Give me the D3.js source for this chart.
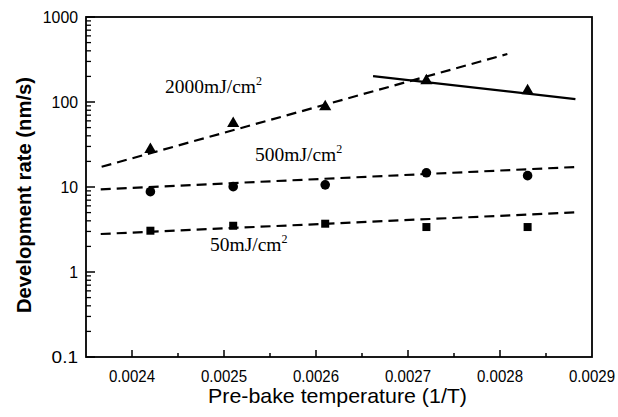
<!DOCTYPE html>
<html><head><meta charset="utf-8">
<script src="https://cdn.jsdelivr.net/npm/d3@7"></script>
<style>body{margin:0;background:#fff}svg{display:block}</style>
</head><body>
<svg id="c" width="618" height="417"></svg>
<script>
// ---- data ----
const temps = [0.00242, 0.00251, 0.00261, 0.00272, 0.00283];
const rate2000 = [27.6, 56, 88, 178, 136];
const rate500 = [8.8, 10.1, 10.6, 14.7, 13.6];
const rate50 = [3.06, 3.5, 3.7, 3.38, 3.38];
const fit2000DashX = [0.002367, 0.002808], fit2000DashY = [17.3, 367];
const fit2000SolidX = [0.002662, 0.002882], fit2000SolidY = [202, 108];
const fit500X = [0.002366, 0.002882], fit500Y = [9.4, 17.2];
const fit50X = [0.002366, 0.002882], fit50Y = [2.8, 5.03];
const xTicks = [0.0024, 0.0025, 0.0026, 0.0027, 0.0028, 0.0029];
const yTicks = [0.1, 1, 10, 100, 1000];
const seriesLabels = ["2000mJ/cm", "500mJ/cm", "50mJ/cm"];

const svg = d3.select("#c");
const L = 86, R = 592, T = 17, B = 357;
const x = d3.scaleLinear().domain([0.00235, 0.0029]).range([L, R]);
const y = d3.scaleLog().domain([0.1, 1000]).range([B, T]);

// frame
svg.append("rect").attr("x", L).attr("y", T).attr("width", R - L).attr("height", B - T)
  .attr("fill", "none").attr("stroke", "#000").attr("stroke-width", 1.8);

// x ticks
const xMinor = d3.range(0, 11).map(i => 0.00235 + i * 0.00005).filter(v => v > 0.00236 && v < 0.00289);
svg.append("g").selectAll("line").data(xMinor).join("line")
  .attr("x1", d => x(d)).attr("x2", d => x(d)).attr("y1", B)
  .attr("y2", d => B - (xTicks.some(t => Math.abs(t - d) < 1e-9) ? 7 : 4))
  .attr("stroke", "#000").attr("stroke-width", 1.5);
svg.append("g").selectAll("text").data(xTicks).join("text")
  .attr("x", d => x(d)).attr("y", 382).attr("text-anchor", "middle")
  .attr("font-family", "Liberation Sans, Arial, sans-serif").attr("font-size", 16.5)
  .attr("textLength", 46).attr("lengthAdjust", "spacingAndGlyphs")
  .text(d => d.toFixed(4));

// y ticks
const yMinor = [];
for (let e = -1; e < 3; e++) for (let k = 2; k <= 9; k++) yMinor.push(k * Math.pow(10, e));
svg.append("g").selectAll("line").data(yMinor).join("line")
  .attr("x1", L).attr("x2", L + 5).attr("y1", d => y(d)).attr("y2", d => y(d))
  .attr("stroke", "#000").attr("stroke-width", 1.3);
svg.append("g").selectAll("line").data(yTicks).join("line")
  .attr("x1", L).attr("x2", L + 9).attr("y1", d => y(d)).attr("y2", d => y(d))
  .attr("stroke", "#000").attr("stroke-width", 1.5);
svg.append("g").selectAll("text").data(yTicks).join("text")
  .attr("x", 78).attr("y", d => y(d) + 6).attr("text-anchor", "end")
  .attr("font-family", "Liberation Sans, Arial, sans-serif").attr("font-size", 16.5)
  .attr("textLength", d => String(d).length * 8.8).attr("lengthAdjust", "spacingAndGlyphs")
  .text(d => String(d));

// axis titles
svg.append("text").attr("x", 337.5).attr("y", 403).attr("text-anchor", "middle")
  .attr("font-family", "Liberation Sans, Arial, sans-serif").attr("font-size", 21)
  .attr("textLength", 259).attr("lengthAdjust", "spacingAndGlyphs")
  .text("Pre-bake temperature (1/T)");
svg.append("text").attr("transform", "translate(31,195) rotate(-90)").attr("text-anchor", "middle")
  .attr("font-family", "Liberation Sans, Arial, sans-serif").attr("font-size", 21).attr("font-weight", "bold")
  .attr("textLength", 236).attr("lengthAdjust", "spacingAndGlyphs")
  .text("Development rate (nm/s)");

// fit lines
const line = d3.line().x(d => x(d[0])).y(d => y(d[1]));
function fit(xs, ys, dashed) {
  svg.append("path").attr("d", line(d3.zip(xs, ys))).attr("fill", "none")
    .attr("stroke", "#000").attr("stroke-width", 2.2)
    .attr("stroke-dasharray", dashed ? "10,6" : null);
}
fit(fit2000DashX, fit2000DashY, true);
fit(fit2000SolidX, fit2000SolidY, false);
fit(fit500X, fit500Y, true);
fit(fit50X, fit50Y, true);

// markers
const pts = (ys) => d3.zip(temps, ys);
svg.append("g").selectAll("path").data(pts(rate2000)).join("path")
  .attr("d", d3.symbol(d3.symbolTriangle, 64))
  .attr("transform", d => `translate(${x(d[0])},${y(d[1])})`).attr("fill", "#000");
svg.append("g").selectAll("circle").data(pts(rate500)).join("circle")
  .attr("cx", d => x(d[0])).attr("cy", d => y(d[1])).attr("r", 4.8).attr("fill", "#000");
svg.append("g").selectAll("rect").data(pts(rate50)).join("rect")
  .attr("x", d => x(d[0]) - 4).attr("y", d => y(d[1]) - 4).attr("width", 8).attr("height", 8).attr("fill", "#000");

// labels
const labelPos = [[165, 93], [255, 161], [210, 251]];
seriesLabels.forEach((s, i) => {
  const t = svg.append("text").attr("x", labelPos[i][0]).attr("y", labelPos[i][1])
    .attr("font-family", "Liberation Serif, Times New Roman, serif").attr("font-size", 19.5);
  t.append("tspan").text(s);
  t.append("tspan").attr("dy", -8).attr("font-size", 12).text("2");
});
</script>
</body></html>
